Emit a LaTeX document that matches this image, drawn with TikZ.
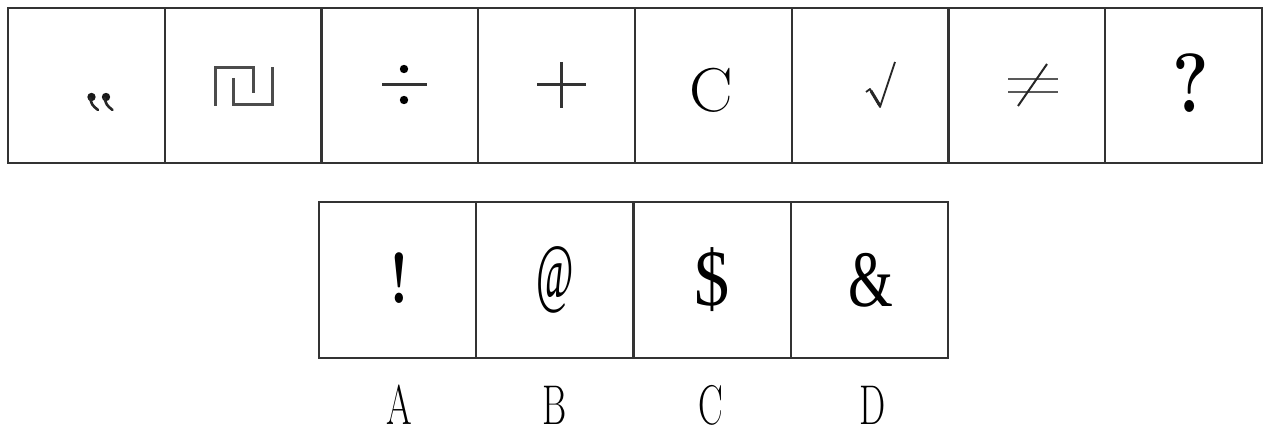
\documentclass[tikz,border=0pt]{standalone}
\usepackage{fontspec}
\usepackage{graphicx}
\newfontfamily\tms{Liberation Serif}
\tikzset{
  cell/.style={minimum width=156.75pt, minimum height=155pt, inner sep=0pt, outer sep=0pt},
  cellb/.style={minimum width=157.25pt, minimum height=156pt, inner sep=0pt, outer sep=0pt},
  grid/.style={draw=black!80, line width=2.2pt},
  glyph/.style={inner sep=0pt, outer sep=0pt, text=black},
  stroke/.style={draw=black!80, line width=3pt},
  lbl/.style={inner sep=0pt, outer sep=0pt, text=black}
}
\newcommand{\sz}[1]{\fontsize{#1}{#1}\selectfont}
\begin{document}
\begin{tikzpicture}[x=1pt,y=-1pt]
\useasboundingbox (0,0) rectangle (1263,435);
% top row
\foreach \i in {0,...,7}{
  \node[cell] (t\i) at ({8+156.75*\i+78.375},85.5) {};
}
\draw[grid] (t0.north west) rectangle (t7.south east);
\foreach \i in {0,...,6}{
  \draw[grid] (t\i.north east) -- (t\i.south east);
}
% bottom row
\foreach \i in {0,...,3}{
  \node[cellb] (b\i) at ({319+157.25*\i+78.625},280) {};
}
\draw[grid] (b0.north west) rectangle (b3.south east);
\foreach \i in {0,...,2}{
  \draw[grid] (b\i.north east) -- (b\i.south east);
}
% 1: reversed double comma
\fill[black!90] (91.5,97) circle (4.2);
\fill[black!90] (106,97) circle (4.2);
\draw[black!85, line width=2.6pt, line cap=round] (90,98) .. controls (92,105) .. (98,110);
\draw[black!85, line width=2.6pt, line cap=round] (104.5,98) .. controls (106.5,105) .. (112.5,110);
% 2: meander
\draw[black!70, line width=3pt] (215,106) -- (215,68) -- (253,68) -- (253,93);
\draw[black!70, line width=3pt] (233,78) -- (233,105) -- (272,105) -- (272,67);
% 3: divide
\draw[stroke] (382,85) -- (427,85);
\fill[black] (404,69) circle (4.2);
\fill[black] (404,100) circle (4.2);
% 4: plus
\draw[stroke] (537,85) -- (586,85);
\draw[stroke] (561,62) -- (561,108);
% 5: C
\node[glyph] (c5) at (711,90) {\sz{62}\scalebox{1.05}[1]{C}};
% 6: check / surd
\draw[black!85, line width=1.8pt, line join=round] (866,92) -- (870,89) -- (880,107) -- (895,62);
\draw[black!85, line width=3pt] (871,91) -- (879.5,105);
% 7: not equal
\draw[black!65, line width=2.6pt] (1008,79) -- (1058,79);
\draw[black!65, line width=2.6pt] (1008,92) -- (1058,92);
\draw[black!85, line width=2pt] (1018,106) -- (1047,64);
% 8: question mark
\node[glyph] (q8) at (1191,83) {\sz{84}\bfseries\scalebox{0.82}[1]{?}};
% options
\node[glyph] (s0) at (399,278) {\sz{72}\bfseries\scalebox{0.8}[1]{!}};
\node[glyph] (s1) at (555,280) {\tms\sz{78}\scalebox{0.52}[1]{@}};
\node[glyph] (s2) at (712,280) {\tms\sz{80}\scalebox{0.88}[1]{\$}};
\node[glyph] (s3) at (871,280) {\tms\sz{80}\scalebox{0.72}[1]{\&}};
% labels
\node[lbl] (la) at (399,405) {\sz{56}\scalebox{0.66}[1]{A}};
\node[lbl] (lb) at (555,405) {\sz{56}\scalebox{0.66}[1]{B}};
\node[lbl] (lc) at (711,405) {\sz{56}\scalebox{0.66}[1]{C}};
\node[lbl] (ld) at (873,405) {\sz{56}\scalebox{0.66}[1]{D}};
\end{tikzpicture}
\end{document}
